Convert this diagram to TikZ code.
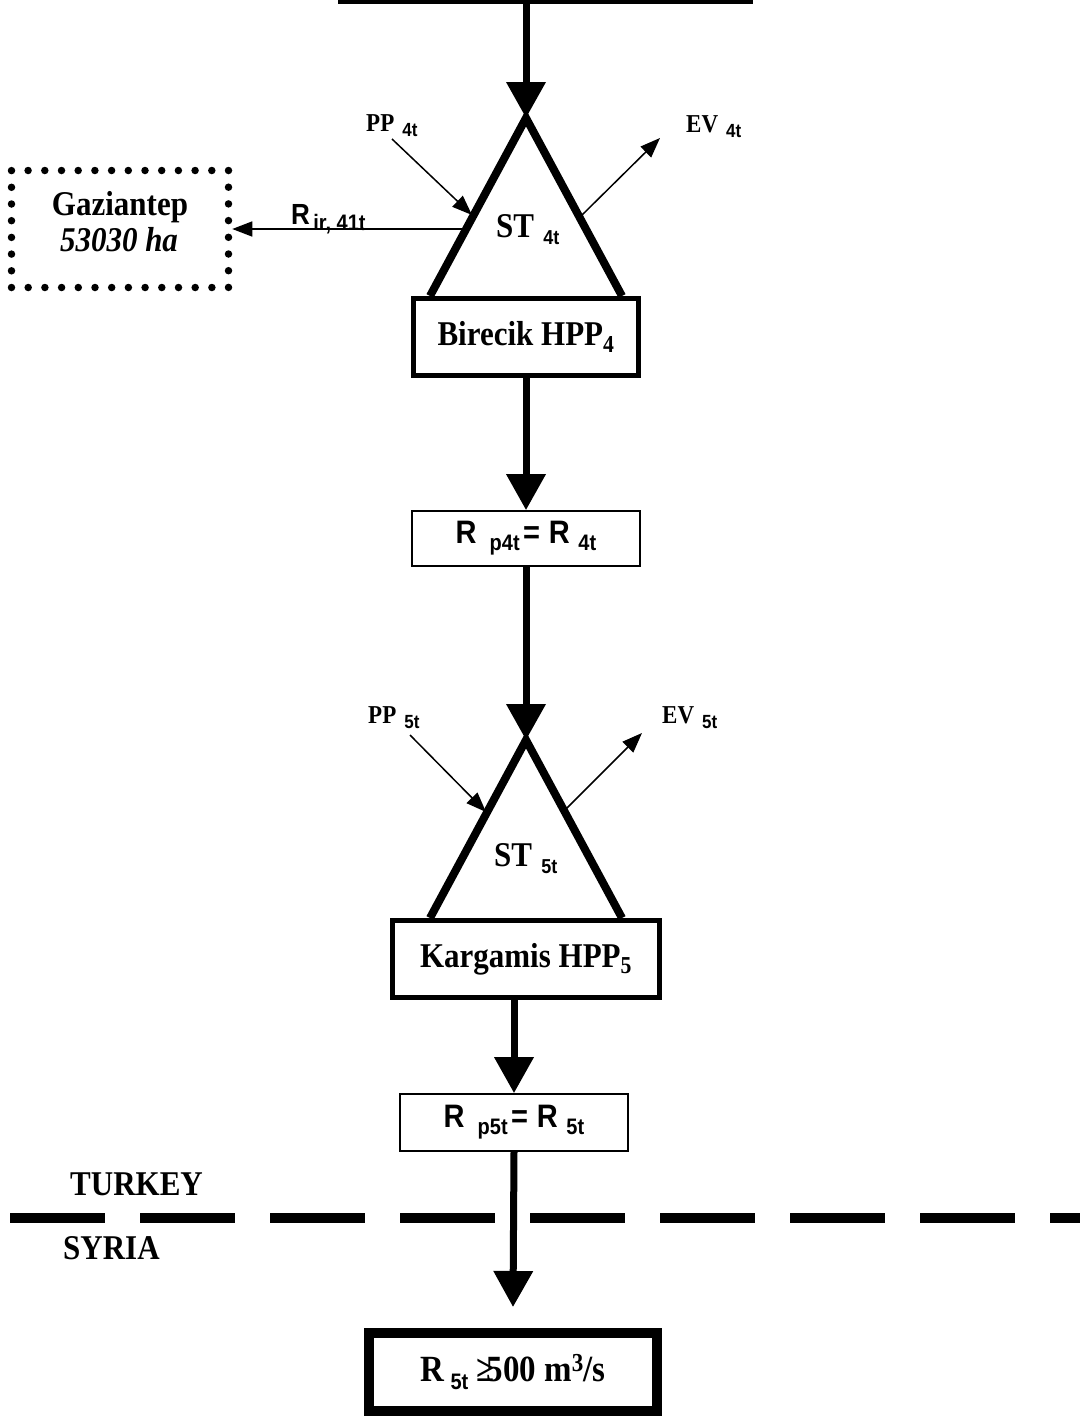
\documentclass[tikz,border=0pt]{standalone}
\usepackage{graphicx}
\usepackage{fontspec}
\setmainfont{Liberation Serif}
\setsansfont{Liberation Sans}
\usetikzlibrary{arrows.meta}
\newcommand{\sbs}[2]{\raisebox{-0.22em}{\sffamily\bfseries\fontsize{#1}{#1}\selectfont #2}}
\newcommand{\vt}[1]{\scalebox{1}[1.12]{#1}}
\begin{document}
\begin{tikzpicture}[x=1pt,y=-1pt,
  bigtxt/.style={font=\bfseries\fontsize{31}{31}\selectfont, inner sep=0pt},
  smalltxt/.style={font=\bfseries\fontsize{23}{23}\selectfont, inner sep=0pt},
  thickarrow/.style={line width=7pt, -{Triangle[width=38pt,length=36pt]}},
  thinarrow/.style={line width=1.5pt, -{Triangle[width=15pt,length=20pt]}},
  hppbox/.style={draw, line width=5pt, inner sep=0pt, font=\bfseries\fontsize{31}{31}\selectfont},
  flowbox/.style={draw, line width=1.8pt, inner sep=0pt, font=\sffamily\bfseries\fontsize{29}{29}\selectfont},
  tri/.style={line width=8pt, line join=miter},
]
\useasboundingbox (0,0) rectangle (1080,1416);
\fill[white] (0,0) rectangle (1080,1416);

% top boundary
\coordinate (topL) at (338,2);
\coordinate (topR) at (753,2);
\coordinate (src) at (526,2);
\draw[line width=4.5pt] (topL) -- (topR);

% reservoir 4
\coordinate (t1a) at (526,118);
\coordinate (t1l) at (430,296);
\coordinate (t1r) at (622,296);
\draw[tri] (t1l) -- (t1a) -- (t1r);
\draw[thickarrow] (src) -- (t1a);

\node[hppbox, minimum width=225pt, minimum height=77pt] (bir) at (526,337) {\vt{Birecik HPP\textsubscript{4}}};
\node[bigtxt, anchor=base west] (st4) at (496,237) {\vt{ST\hspace{0.3em}\sbs{18}{4t}}};

\node[smalltxt, anchor=base west] (pp4) at (366,131) {\vt{PP\hspace{0.35em}\sbs{17}{4t}}};
\node[smalltxt, anchor=base west] (ev4) at (686,132) {\vt{EV\hspace{0.35em}\sbs{17}{4t}}};
\coordinate (pp4s) at (392,139);
\coordinate (pp4e) at (472,215);
\coordinate (ev4s) at (580,217);
\coordinate (ev4e) at (660,138);
\draw[thinarrow] (pp4s) -- (pp4e);
\draw[thinarrow] (ev4s) -- (ev4e);

% Gaziantep
\node[draw, line width=7.5pt, line cap=round, dash pattern=on 0pt off 16.7pt,
      minimum width=217pt, minimum height=117pt, inner sep=0pt] (gaz) at (120,229) {};
\node[bigtxt, anchor=base] (gaz1) at (120,215) {\vt{Gaziantep}};
\node[bigtxt, anchor=base] (gaz2) at (119,251) {\vt{\itshape 53030 ha}};
\coordinate (rirS) at (464,229);
\draw[thinarrow] (rirS) -- (rirS -| gaz.east);
\node[font=\sffamily\bfseries\fontsize{26}{26}\selectfont, inner sep=0pt, anchor=base west] (rir) at (291,224) {\vt{R\sbs{20}{\,ir,\ 41t}}};

% Rp4t
\node[flowbox, minimum width=228pt, minimum height=55pt] (rp4) at (526,538.5) {\vt{R\hspace{0.45em}\sbs{20}{p4t}\hspace{0.12em}=\hspace{0.3em}R\hspace{0.3em}\sbs{20}{4t}}};
\draw[thickarrow] (bir.south) -- (rp4.north);

% reservoir 5
\coordinate (t2a) at (526,740);
\coordinate (t2l) at (430,918);
\coordinate (t2r) at (622,918);
\draw[tri] (t2l) -- (t2a) -- (t2r);
\draw[thickarrow] (rp4.south) -- (t2a);

\node[hppbox, minimum width=267pt, minimum height=77pt] (kar) at (526,959) {\vt{Kargamis HPP\textsubscript{5}}};
\node[bigtxt, anchor=base west] (st5) at (494,866) {\vt{ST\hspace{0.3em}\sbs{18}{5t}}};

\node[smalltxt, anchor=base west] (pp5) at (368,723) {\vt{PP\hspace{0.35em}\sbs{17}{5t}}};
\node[smalltxt, anchor=base west] (ev5) at (662,723) {\vt{EV\hspace{0.35em}\sbs{17}{5t}}};
\coordinate (pp5s) at (410,735);
\coordinate (pp5e) at (486,812);
\coordinate (ev5s) at (565,810);
\coordinate (ev5e) at (642,733);
\draw[thinarrow] (pp5s) -- (pp5e);
\draw[thinarrow] (ev5s) -- (ev5e);

% Rp5t
\node[flowbox, minimum width=228pt, minimum height=57pt] (rp5) at (514,1122.5) {\vt{R\hspace{0.45em}\sbs{20}{p5t}\hspace{0.12em}=\hspace{0.3em}R\hspace{0.3em}\sbs{20}{5t}}};
\draw[thickarrow] (rp5.north |- kar.south) -- (rp5.north);

% border
\coordinate (bL) at (10,1218);
\coordinate (bR) at (1080,1218);
\draw[line width=10pt, dash pattern=on 95pt off 35pt] (bL) -- (bR);
\node[bigtxt, anchor=base west] (tr) at (70,1195) {\vt{TURKEY}};
\node[bigtxt, anchor=base west] (sy) at (63,1259) {\vt{SYRIA}};

% final
\node[draw, line width=10pt, inner sep=0pt, minimum width=288pt, minimum height=78pt,
      font=\bfseries\fontsize{33}{33}\selectfont] (fin) at (513,1372) {\vt{R\hspace{0.2em}\sbs{20}{5t}\ ≥\kern-0.25em 500 m\textsuperscript{3}/s}};
\draw[thickarrow] (rp5.south) -- ([yshift=21pt]fin.north);
\end{tikzpicture}
\end{document}
